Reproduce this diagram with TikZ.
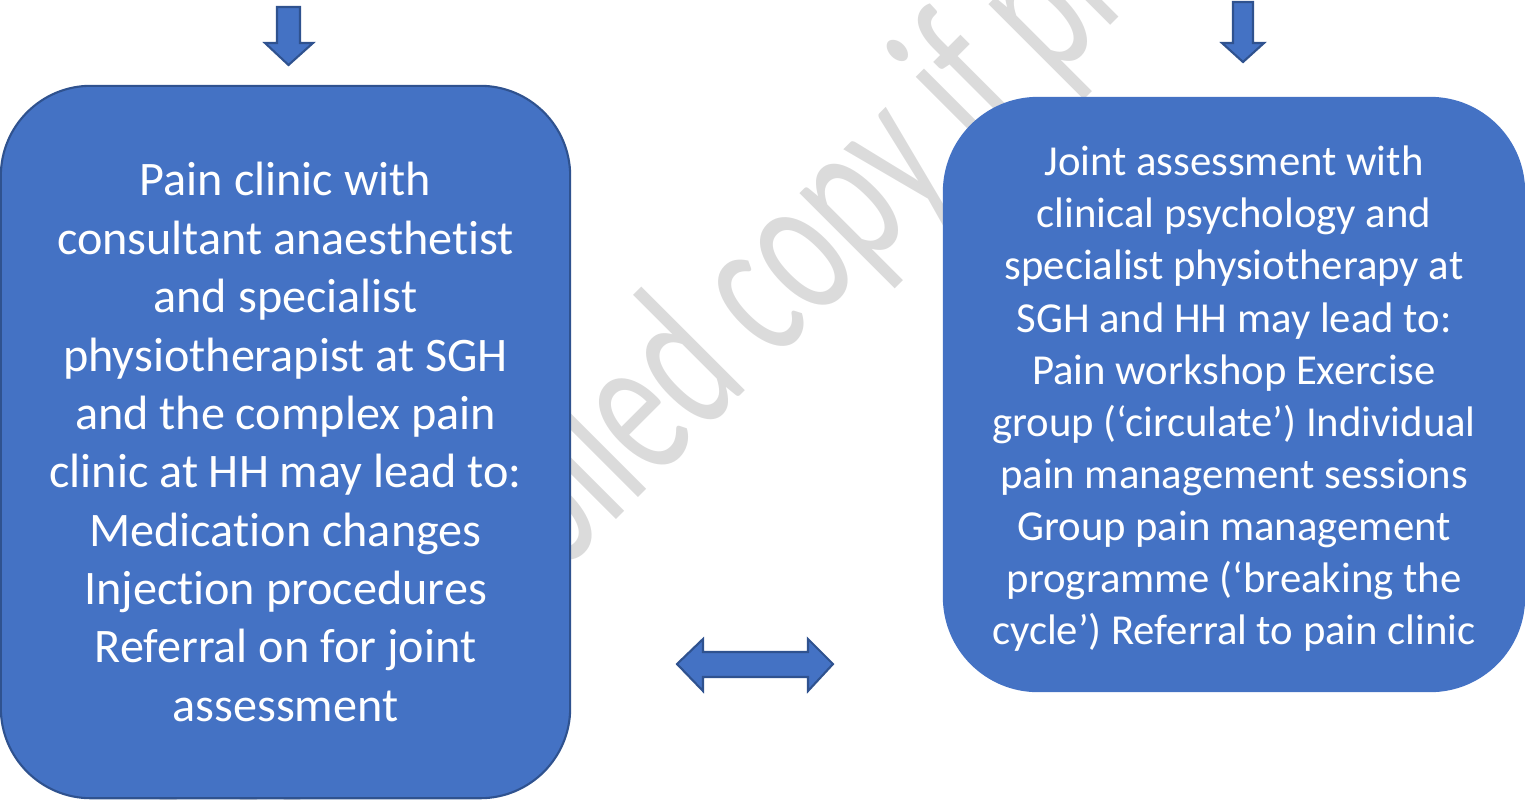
\documentclass[tikz,border=0pt]{standalone}
\usepackage{fontspec}
\setmainfont{Carlito}[Ligatures=NoCommon]

\definecolor{boxblue}{HTML}{4472C4}
\definecolor{boxedge}{HTML}{2F528F}
\definecolor{wmgray}{HTML}{DBDBDB}

\tikzset{
  pathway/.style={fill=boxblue, text=white, align=center, inner sep=0pt},
  blockarrow/.style={fill=boxblue, draw=boxedge, line width=0.6pt, line join=miter},
  % stretched word-art text, squeezed along its baseline
  watermark/.style={text=wmgray, font=\fontsize{60pt}{66pt}\selectfont,
    rotate=45, xscale=0.646, inner sep=0pt}
}

\begin{document}
\begin{tikzpicture}[x=0.01cm, y=-0.01cm]
  % page of the reference, 1 unit = 1 pixel
  \useasboundingbox (0,0) rectangle (1525,799);

  % watermark, behind the boxes
  \begin{scope}
    \clip (0,0) rectangle (1525,799);
    \node[watermark, anchor=base west] (wm) at (241,895) {Uncontrolled copy if printed};
  \end{scope}

  % the two clinics
  \node[pathway, draw=boxedge, line width=0.6pt, rounded corners=0.9cm,
        minimum width=5.69cm, minimum height=7.12cm,
        font=\fontsize{13.7pt}{16.6pt}\selectfont] (painclinic) at (285.5,442)
    {Pain clinic with\\ consultant anaesthetist\\ and specialist\\ physiotherapist at SGH\\
     and the complex pain\\ clinic at HH may lead to:\\ Medication changes\\
     Injection procedures\\ Referral on for joint\\ assessment};
  \node[pathway, rounded corners=0.95cm,
        minimum width=5.82cm, minimum height=5.95cm,
        font=\fontsize{12.15pt}{14.8pt}\selectfont] (jointclinic) at (1234,394.5)
    {\rule{0pt}{0.38cm}Joint assessment with\\ clinical psychology and\\ specialist physiotherapy at\\
     SGH and HH may lead to:\\ Pain workshop Exercise\\ group (‘circulate’) Individual\\
     pain management sessions\\ Group pain management\\ programme (‘breaking the\\
     cycle’) Referral to pain clinic};

  % arrows coming in from above
  \draw[blockarrow] (277,7) -- (300,7) -- (300,43) -- (313,43) -- (288.5,65)
    -- (265,43) -- (277,43) -- cycle;
  \draw[blockarrow] (1233,2) -- (1253,2) -- (1253,43) -- (1264,43) -- (1243,62)
    -- (1222,43) -- (1233,43) -- cycle;

  % two-way arrow between the clinics
  \draw[blockarrow] (677,664) -- (703,639) -- (703,652) -- (808,652) -- (808,639)
    -- (833,664) -- (808,691) -- (808,677) -- (703,677) -- (703,691) -- cycle;
\end{tikzpicture}
\end{document}
